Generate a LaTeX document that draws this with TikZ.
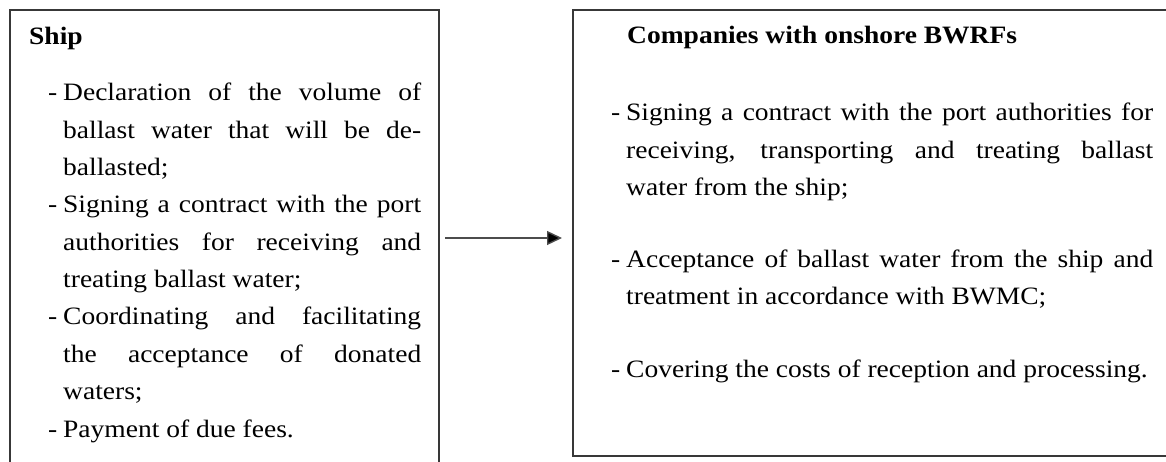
\documentclass[tikz,border=0pt]{standalone}
\usepackage{fontspec}
\setmainfont[FakeStretch=1.1]{Liberation Serif}
\usetikzlibrary{arrows.meta}
\tolerance=10000
\hyphenpenalty=10000
\emergencystretch=20pt
\tikzset{
  box/.style={draw=black!78, line width=1.1pt, inner sep=0pt, outer sep=0pt, anchor=north west},
  para/.style={anchor=base west, inner sep=0pt, align=justify, font=\fontsize{25}{37.3}\selectfont},
  head/.style={anchor=base west, inner sep=0pt, font=\fontsize{25}{37.3}\selectfont\bfseries},
  conn/.style={draw=black!70, line width=1.4pt, -{Triangle[length=15pt,width=14pt,fill=black]}},
}
\newcommand{\dashitem}{\hangindent=15pt\hangafter=1\noindent\makebox[15pt][l]{-}}
\begin{document}
\begin{tikzpicture}[x=1pt,y=-1pt]
\useasboundingbox (0,0) rectangle (1166,462);
\clip (0,0) rectangle (1166,462);
% boxes
\node[box, minimum width=429pt, minimum height=470pt] (ship) at (10,10) {};
\node[box, minimum width=620pt, minimum height=446pt] (bwrf) at (573,10) {};
% left texts
\node[head] (shipT) at (29,45) {Ship};
\node[para, text width=373pt] (s1) at (48,101) {\dashitem Declaration of the volume of\linebreak ballast water that will be de-\linebreak ballasted;\par};
\node[para, text width=373pt] (s2) at (48,212.9) {\dashitem Signing a contract with the port\linebreak authorities for receiving and\linebreak treating ballast water;\par};
\node[para, text width=373pt] (s3) at (48,324.8) {\dashitem Coordinating and facilitating\linebreak the acceptance of donated\linebreak waters;\par};
\node[para, text width=373pt] (s4) at (48,437) {\dashitem Payment of due fees.\par};
% right texts
\node[head] (bwrfT) at (627,44) {Companies with onshore BWRFs};
\node[para, text width=542pt] (r1) at (611,121) {\dashitem Signing a contract with the port authorities for\linebreak receiving, transporting and treating ballast\linebreak water from the ship;\par};
\node[para, text width=542pt] (r2) at (611,267) {\dashitem Acceptance of ballast water from the ship and\linebreak treatment in accordance with BWMC;\par};
\node[para, text width=542pt] (r3) at (611,377) {\dashitem Covering the costs of reception and processing.\par};
% connector
\coordinate (a1) at (445,238);
\coordinate (a2) at (562,238);
\draw[conn] (a1) -- (a2);
\end{tikzpicture}
\end{document}
